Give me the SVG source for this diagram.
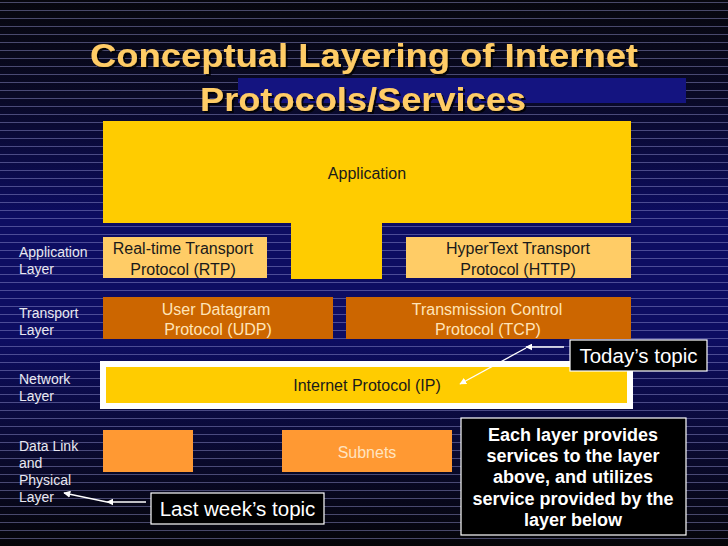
<svg xmlns="http://www.w3.org/2000/svg" width="728" height="546" viewBox="0 0 728 546">
<defs>
<linearGradient id="bg" x1="0" y1="0" x2="0" y2="1">
<stop offset="0" stop-color="#07070e"/>
<stop offset="0.18" stop-color="#090926"/>
<stop offset="0.4" stop-color="#0d0d62"/>
<stop offset="0.62" stop-color="#0d0d62"/>
<stop offset="0.85" stop-color="#09092a"/>
<stop offset="1" stop-color="#050508"/>
</linearGradient>
<pattern id="stripes" x="0" y="0" width="8" height="8" patternUnits="userSpaceOnUse">
<rect x="0" y="2" width="8" height="1" fill="#9a9ad8" fill-opacity="0.45"/>
</pattern>
<marker id="ah" viewBox="0 0 10 10" refX="9" refY="5" markerWidth="7" markerHeight="7" orient="auto" markerUnits="userSpaceOnUse">
<path d="M0,0 L10,5 L0,10 z" fill="#ffffff"/>
</marker>
<filter id="sh" x="-5%" y="-5%" width="110%" height="120%">
<feDropShadow dx="2" dy="2" stdDeviation="0.5" flood-color="#000" flood-opacity="0.8"/>
</filter>
</defs>
<style>
.lbl{font-family:"Liberation Sans",Arial,sans-serif;font-size:14px;fill:#e8e8f0}
.box{font-family:"Liberation Sans",Arial,sans-serif;font-size:16px;text-anchor:middle}
.dark{fill:#1a1a1a}
.light{fill:#ffe4b8}
.yel{fill:#ffcc00}
.lor{fill:#ffcc66}
.dor{fill:#cc6600}
.org{fill:#ff9933}
.call{fill:#000000;stroke:#ffffff;stroke-width:1.2}
.ct{font-family:"Liberation Sans",Arial,sans-serif;font-size:20.5px;fill:#ffffff;text-anchor:middle}
.note{font-family:"Liberation Sans",Arial,sans-serif;font-size:18px;font-weight:bold;fill:#ffffff;text-anchor:middle}
.arr{stroke:#ffffff;stroke-width:1.3;fill:none;marker-end:url(#ah)}
</style>
<rect width="728" height="546" fill="url(#bg)"/>
<rect width="728" height="546" fill="url(#stripes)"/>
<rect x="238" y="78" width="448" height="25" fill="#141480"/>
<g id="title" filter="url(#sh)" font-family="'Liberation Sans',Arial,sans-serif" font-size="33" font-weight="bold" fill="#ffcc66" text-anchor="middle">
<text x="364" y="67" textLength="548" lengthAdjust="spacingAndGlyphs">Conceptual Layering of Internet</text>
<text x="363" y="111" textLength="326" lengthAdjust="spacingAndGlyphs">Protocols/Services</text>
</g>
<g id="layer-labels">
<text class="lbl" x="19" y="257">Application</text>
<text class="lbl" x="19" y="274">Layer</text>
<text class="lbl" x="19" y="318">Transport</text>
<text class="lbl" x="19" y="335">Layer</text>
<text class="lbl" x="19" y="384">Network</text>
<text class="lbl" x="19" y="401">Layer</text>
<text class="lbl" x="19" y="451">Data Link</text>
<text class="lbl" x="19" y="468">and</text>
<text class="lbl" x="19" y="485">Physical</text>
<text class="lbl" x="19" y="502">Layer</text>
</g>
<g id="application">
<path class="yel" d="M103,121 H631 V223 H382 V279 H291 V223 H103 Z"/>
<text class="box dark" x="367" y="179">Application</text>
</g>
<g id="rtp">
<rect class="lor" x="103" y="237" width="164" height="41"/>
<text class="box dark" x="183" y="254">Real-time Transport</text>
<text class="box dark" x="183" y="275">Protocol (RTP)</text>
</g>
<g id="http">
<rect class="lor" x="406" y="237" width="225" height="41"/>
<text class="box dark" x="518" y="254">HyperText Transport</text>
<text class="box dark" x="518" y="275">Protocol (HTTP)</text>
</g>
<g id="udp">
<rect class="dor" x="103" y="297" width="230" height="42"/>
<text class="box light" x="216" y="315">User Datagram</text>
<text class="box light" x="218" y="335">Protocol (UDP)</text>
</g>
<g id="tcp">
<rect class="dor" x="346" y="297" width="285" height="42"/>
<text class="box light" x="487" y="315">Transmission Control</text>
<text class="box light" x="488" y="335">Protocol (TCP)</text>
</g>
<g id="ip">
<rect x="100" y="361" width="533" height="48" fill="#ffffff"/>
<rect class="yel" x="106" y="367" width="521" height="36"/>
<text class="box dark" x="367" y="391">Internet Protocol (IP)</text>
</g>
<g id="datalink">
<rect class="org" x="103" y="430" width="90" height="42"/>
</g>
<g id="subnets">
<rect class="org" x="282" y="430" width="170" height="42"/>
<text class="box" fill="#ffe4c0" x="367" y="458">Subnets</text>
</g>
<g id="connectors">
<line class="arr" x1="564" y1="347" x2="526" y2="347"/>
<line class="arr" x1="526" y1="348" x2="460" y2="384"/>
<line class="arr" x1="146" y1="502" x2="107" y2="502"/>
<line class="arr" x1="107" y1="502" x2="64" y2="493"/>
</g>
<g id="todays-topic">
<rect class="call" x="570" y="340" width="137" height="31"/>
<text class="ct" x="638.5" y="363">Today’s topic</text>
</g>
<g id="last-weeks-topic">
<rect class="call" x="151" y="493" width="173" height="31"/>
<text class="ct" x="237.5" y="516">Last week’s topic</text>
</g>
<g id="note">
<rect class="call" x="461" y="418" width="225" height="117"/>
<text class="note" x="573" y="441">Each layer provides</text>
<text class="note" x="573" y="462">services to the layer</text>
<text class="note" x="573" y="483">above, and utilizes</text>
<text class="note" x="573" y="505">service provided by the</text>
<text class="note" x="573" y="526">layer below</text>
</g>
</svg>
